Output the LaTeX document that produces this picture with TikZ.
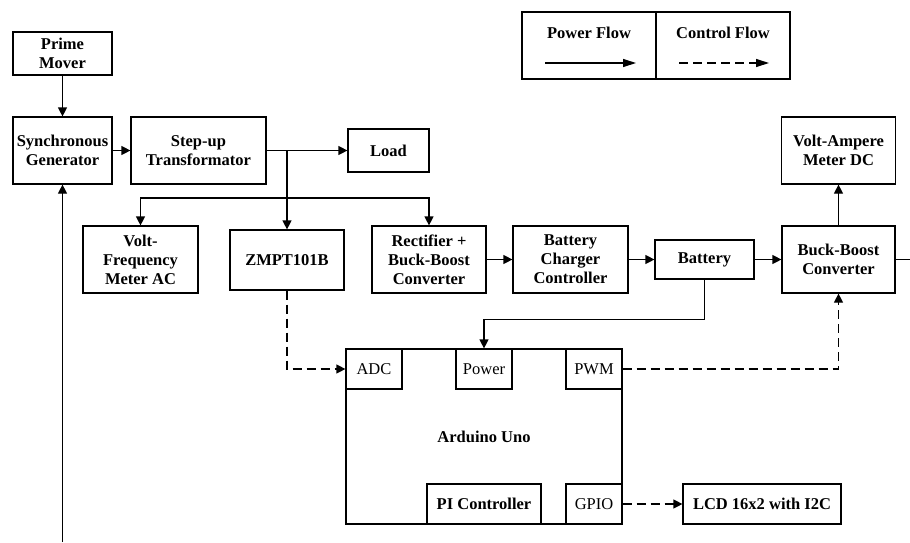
\documentclass[tikz,border=0pt]{standalone}
\usepackage{fontspec}
\setmainfont{Liberation Serif}
\usetikzlibrary{arrows.meta,positioning,calc}

\begin{document}
\begin{tikzpicture}[
  x=1pt,y=-1pt,
  font=\fontsize{16.5}{19}\selectfont\bfseries,
  box/.style={draw,line width=1.2pt,inner sep=0pt,align=center,fill=white},
  port/.style={box,font=\fontsize{16.5}{19}\selectfont\mdseries,minimum width=56pt,minimum height=40pt},
  legbox/.style={draw,line width=1.8pt,minimum width=134pt,minimum height=67pt},
  arr/.style={-{Triangle[length=9pt,width=9pt]},line width=1.2pt},
  carr/.style={arr,dash pattern=on 9pt off 5pt},
  legarr/.style={-{Triangle[length=13pt,width=8pt]},line width=1.2pt}
]
\useasboundingbox (0,0) rectangle (910,542);

% AC side
\node[box,minimum width=99pt,minimum height=43pt]  (prime)   at (62.5,53.5)  {Prime\\Mover};
\node[box,minimum width=99pt,minimum height=67pt]  (syngen)  at (62.5,150.5) {Synchronous\\Generator};
\node[box,minimum width=135pt,minimum height=67pt] (stepup)  at (198.5,150.5){Step-up\\Transformator};
\node[box,minimum width=81pt,minimum height=43pt]  (load)    at (388.5,150.5){Load};
\node[box,minimum width=115pt,minimum height=67pt] (vfmeter) at (140.5,259.5){Volt-\\Frequency\\Meter AC};
\node[box,minimum width=114pt,minimum height=60pt] (zmpt)    at (287,260)    {ZMPT101B};
\node[box,minimum width=114pt,minimum height=67pt] (rect)    at (429,259.5)  {Rectifier +\\Buck-Boost\\Converter};

% DC side
\node[box,minimum width=115pt,minimum height=67pt] (charger) at (570.5,259.5){Battery\\Charger\\Controller};
\node[box,minimum width=99pt,minimum height=39pt]  (battery) at (704.5,259.5){Battery};
\node[box,minimum width=113pt,minimum height=67pt] (buck)    at (838.5,259.5){Buck-Boost\\Converter};
\node[box,minimum width=114pt,minimum height=67pt] (vameter) at (838.5,150.5){Volt-Ampere\\Meter DC};

% controller
\node[box,minimum width=276pt,minimum height=175pt] (uno) at (484,436.5) {Arduino Uno};
\node[port] (adc)   at (374,369) {ADC};
\node[port] (power) at (484,369) {Power};
\node[port] (pwm)   at (594,369) {PWM};
\node[port] (gpio)  at (594,504) {GPIO};
\node[box,minimum width=114pt,minimum height=40pt] (pictrl) at (484,504) {PI Controller};
\node[box,minimum width=158pt,minimum height=40pt] (lcd)    at (762,504) {LCD 16x2 with I2C};

% legend
\node[legbox] (powleg) at (589,45.5) {};
\node[legbox] (ctlleg) at (723,45.5) {};
\node (powtxt) at (589,33) {Power Flow};
\node (ctltxt) at (723,33) {Control Flow};
\coordinate (pa) at (545,63);
\coordinate (pb) at (636,63);
\coordinate (ca) at (679,63);
\coordinate (cb) at (769,63);
\draw[legarr] (pa) -- (pb);
\draw[legarr,dash pattern=on 9pt off 5pt] (ca) -- (cb);

% power flow
\coordinate (shaft) at (62.5,542);
\coordinate (tap) at (287,150.5);
\coordinate (split) at (287,198);
\coordinate (out) at (910,259.5);
\draw[arr] (prime) -- (syngen);
\draw[arr] (shaft) -- (syngen);
\draw[arr] (syngen) -- (stepup);
\draw[arr] (stepup) -- (load);
\draw[arr] (tap) -- (zmpt);
\draw[arr] (split) -| (vfmeter);
\draw[arr] (split) -| (rect);
\draw[arr] (rect) -- (charger);
\draw[arr] (charger) -- (battery);
\draw[arr] (battery) -- (buck);
\draw[arr] (buck) -- (vameter);
\draw[line width=1.2pt] (buck) -- (out);
\draw[arr] (battery.south) -- ++(0,40) -| (power.north);

% control flow
\draw[carr] (zmpt.south) |- (adc.west);
\draw[carr] (pwm.east) -| (buck.south);
\draw[carr] (gpio) -- (lcd);
\end{tikzpicture}
\end{document}
